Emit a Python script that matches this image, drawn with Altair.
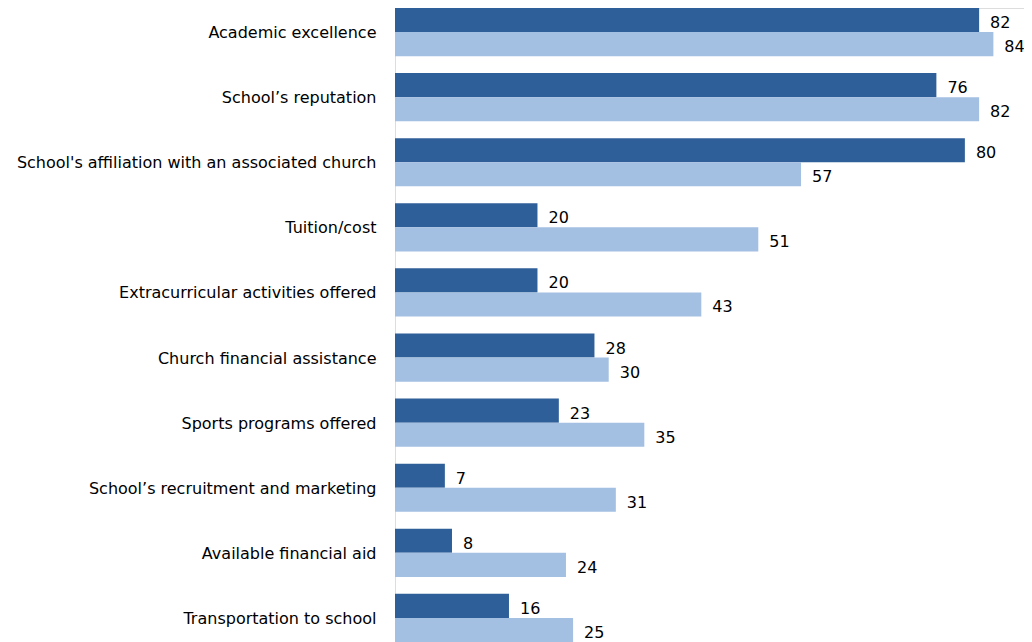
import altair as alt
import pandas as pd

categories = [
    "Academic excellence",
    "School\u2019s reputation",
    "School's affiliation with an associated church",
    "Tuition/cost",
    "Extracurricular activities offered",
    "Church financial assistance",
    "Sports programs offered",
    "School\u2019s recruitment and marketing",
    "Available financial aid",
    "Transportation to school",
]
series_names = ["Series 1", "Series 2"]
series1 = [82, 76, 80, 20, 20, 28, 23, 7, 8, 16]
series2 = [84, 82, 57, 51, 43, 30, 35, 31, 24, 25]
colors = ["#2F5F99", "#A3BFE2"]

rows = []
for c, a, b in zip(categories, series1, series2):
    rows.append({"category": c, "series": series_names[0], "value": a})
    rows.append({"category": c, "series": series_names[1], "value": b})
df = pd.DataFrame(rows)

FONT = "DejaVu Sans"

y_enc = alt.Y("category:N", sort=categories, title=None,
              scale=alt.Scale(paddingInner=0.26, paddingOuter=0),
              axis=alt.Axis(domain=False, ticks=False, tickSize=0, labelPadding=19,
                            labelFontSize=16, labelFont=FONT, labelColor="#000000",
                            labelLimit=400, grid=False, labelBaseline="middle", labelOffset=1))
yoff = alt.YOffset("series:N", sort=series_names, scale=alt.Scale(paddingInner=0, paddingOuter=0))
x_enc = alt.X("value:Q", scale=alt.Scale(domain=[0, 88.3], nice=False, zero=True), axis=None)

base = alt.Chart(df).encode(y=y_enc, yOffset=yoff, x=x_enc)

bars = base.mark_bar().encode(
    color=alt.Color("series:N", sort=series_names,
                    scale=alt.Scale(domain=series_names, range=colors), legend=None)
)
labels = base.mark_text(align="left", baseline="middle", dx=11, dy=3,
                        fontSize=16, font=FONT, color="#000000").encode(
    text=alt.Text("value:Q")
)

chart = (bars + labels).properties(
    width=629, height=634,
    autosize=alt.AutoSizeParams(type="none"),
    padding={"left": 387, "top": 0, "right": 0, "bottom": 0},
).configure_view(stroke=None).configure(background="#ffffff")

chart.save("out.html", embed_options={"renderer": "svg", "actions": False})
